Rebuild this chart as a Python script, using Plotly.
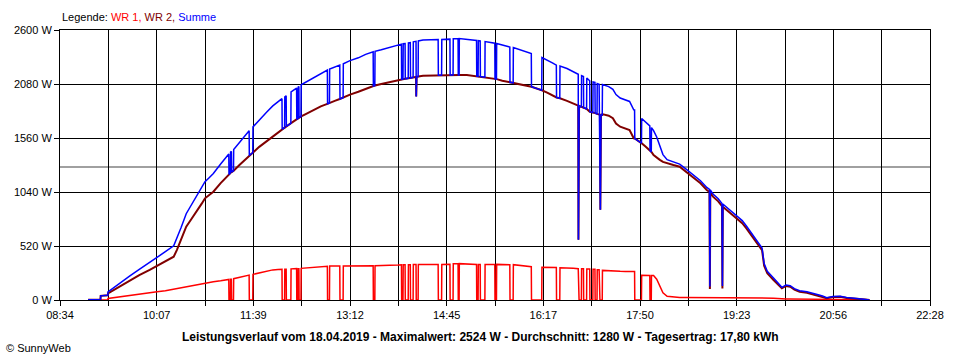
import plotly.graph_objects as go

# ---- data (time in minutes since midnight, watts) ----
t_min = [541, 552.8, 553, 559.8, 560, 570, 581, 590, 600, 607,
         615, 623, 626, 630, 635, 640, 645, 650, 653, 657,
         661, 668, 672, 675.8, 676, 677.3, 677.5, 678.3, 678.5, 680.3,
         680.5, 686, 691, 695.3, 695.5, 698.8, 699, 705, 712, 718,
         723, 726.8, 727, 729.3, 729.5, 730.8, 731, 735.3, 735.5, 740.8,
         741, 742.1, 742.3, 743, 743.2, 745, 745.2, 750, 757, 764,
         770.3, 770.5, 772.3, 772.5, 778, 782.2, 782.4, 785.4, 785.6, 792,
         800, 807, 814.2, 814.4, 815.8, 816, 822, 830, 838, 841.3,
         841.5, 842.8, 843, 844.8, 845, 847.8, 848, 849.8, 850, 852.5,
         852.7, 855.3, 855.5, 855.9, 857.3, 857.5, 862, 870, 876.5, 876.7,
         879.8, 880, 885, 887.8, 888, 890.8, 891, 895.6, 895.8, 896.6,
         896.8, 904, 910, 913.3, 913.5, 914.8, 915, 916.8, 917, 921.3,
         921.5, 927, 930.8, 931, 932.4, 932.6, 938, 945.2, 945.4, 948.4,
         948.6, 955, 960, 965.8, 966, 975.8, 976, 981, 986, 989.8,
         990, 993.1, 993.3, 1000, 1006, 1010.8, 1011, 1011.6, 1013.8, 1014,
         1015.8, 1016, 1018.8, 1019, 1021.8, 1022, 1024.8, 1025, 1026.8, 1027,
         1028.8, 1029, 1030.8, 1031, 1031.6, 1032, 1032.6, 1033.8, 1034, 1040,
         1044, 1047, 1051, 1056, 1060, 1064, 1064.8, 1065, 1071.4, 1071.6,
         1075, 1079.4, 1079.6, 1080.8, 1081, 1083, 1086, 1089, 1092, 1096,
         1102, 1108, 1113, 1118, 1123, 1128, 1134, 1136.6, 1137, 1137.4,
         1140, 1145, 1148.6, 1149, 1149.4, 1156, 1163, 1168, 1172, 1177,
         1182, 1187, 1189, 1192, 1198, 1202, 1206, 1210, 1214, 1218,
         1223, 1230, 1235, 1239, 1245, 1249, 1255, 1262, 1268, 1275,
         1280, 1286, 1290]

wr1 = [0, 0, 0, 0, 15, 30, 40, 55, 70, 80,
       90, 105, 110, 115, 125, 140, 150, 155, 160, 168,
       175, 185, 192, 198, 0, 0, 200, 200, 0, 0,
       205, 220, 232, 240, 0, 0, 247, 262, 278, 290,
       293, 295, 0, 0, 296, 296, 0, 0, 300, 302,
       0, 0, 302, 302, 0, 0, 305, 308, 315, 320,
       325, 0, 0, 327, 327, 327, 0, 0, 327, 327,
       327, 330, 330, 0, 0, 330, 330, 335, 338, 340,
       0, 0, 340, 340, 0, 0, 340, 340, 0, 0,
       343, 343, 0, 0, 0, 343, 343, 343, 343, 0,
       0, 343, 345, 345, 0, 0, 348, 348, 0, 0,
       350, 345, 343, 343, 0, 0, 343, 343, 0, 0,
       343, 343, 343, 0, 0, 343, 343, 340, 0, 0,
       340, 335, 330, 320, 0, 0, 315, 315, 313, 312,
       0, 0, 311, 311, 305, 302, 0, 0, 0, 300,
       300, 0, 0, 298, 298, 0, 0, 295, 295, 0,
       0, 292, 292, 0, 0, 0, 0, 0, 285, 280,
       278, 278, 276, 275, 275, 275, 275, 0, 0, 238,
       238, 236, 0, 0, 235, 235, 200, 130, 70, 35,
       28, 25, 25, 25, 25, 25, 25, 25, 25, 25,
       25, 25, 25, 25, 25, 25, 25, 25, 22, 20,
       20, 20, 20, 20, 18, 15, 10, 10, 10, 10,
       10, 10, 8, 8, 8, 6, 6, 5, 5, 5,
       3, 0, 0]

wr2 = [3, 5, 40, 45, 64, 125, 193, 240, 290, 327,
       375, 417, 481, 580, 706, 780, 850, 930, 979, 1010,
       1043, 1125, 1170, 1208, 1210, 1223, 1225, 1231, 1232, 1244,
       1245, 1300, 1350, 1390, 1392, 1418, 1420, 1475, 1530, 1579,
       1615, 1644, 1645, 1659, 1660, 1671, 1672, 1702, 1703, 1739,
       1740, 1747, 1748, 1754, 1755, 1767, 1768, 1792, 1830, 1865,
       1889, 1890, 1896, 1897, 1920, 1936, 1937, 1947, 1948, 1978,
       2005, 2035, 2060, 2061, 2064, 2065, 2080, 2100, 2119, 2124,
       2125, 2127, 2128, 2130, 2130, 2135, 2135, 2138, 2138, 2143,
       2143, 2148, 1960, 2149, 2152, 2152, 2160, 2163, 2165, 2165,
       2166, 2166, 2167, 2167, 2167, 2167, 2167, 2167, 2167, 2167,
       2167, 2167, 2160, 2156, 2156, 2154, 2154, 2152, 2152, 2146,
       2146, 2138, 2130, 2130, 2127, 2127, 2112, 2096, 2096, 2090,
       2090, 2075, 2065, 2054, 2054, 2020, 2020, 1997, 1970, 1950,
       1950, 1942, 1942, 1918, 1894, 1872, 580, 1870, 1860, 1860,
       1852, 1852, 1840, 1840, 1813, 1813, 1805, 1805, 1800, 1800,
       1792, 1792, 1785, 1785, 1784, 870, 1782, 1781, 1790, 1775,
       1750, 1700, 1669, 1650, 1637, 1557, 1556, 1555, 1510, 1510,
       1480, 1440, 1440, 1425, 1425, 1396, 1370, 1350, 1330, 1316,
       1300, 1284, 1245, 1204, 1165, 1124, 1059, 1040, 105, 1035,
       995, 950, 905, 110, 899, 840, 787, 740, 690, 620,
       546, 481, 330, 257, 193, 150, 112, 135, 128, 100,
       80, 70, 55, 48, 30, 16, 28, 32, 20, 16,
       10, 5, 0]

summe = [a + b for a, b in zip(wr1, wr2)]

x_start, x_end = 514, 1348          # 08:34 .. 22:28
x_labels = ["08:34", "10:07", "11:39", "13:12", "14:45", "16:17", "17:50", "19:23", "20:56", "22:28"]
y_ticks = [0, 520, 1040, 1560, 2080, 2600]
avg_w = 1280
title_text = ("Leistungsverlauf vom 18.04.2019 - Maximalwert: 2524 W - Durchschnitt: 1280 W - "
              "Tagesertrag: 17,80 kWh")

n_grid = 18
step = (x_end - x_start) / n_grid
x_tickvals = [x_start + i * step for i in range(n_grid + 1)]
x_ticktext = [x_labels[i // 2] if i % 2 == 0 else "" for i in range(n_grid + 1)]

FONT = "Liberation Sans, Arial, sans-serif"

fig = go.Figure()
fig.add_trace(go.Scatter(x=t_min, y=wr1, mode="lines", line=dict(color="#ff0000", width=1.5),
                         name="WR 1"))
fig.add_trace(go.Scatter(x=t_min, y=wr2, mode="lines", line=dict(color="#800000", width=2),
                         name="WR 2"))
fig.add_trace(go.Scatter(x=t_min, y=summe, mode="lines", line=dict(color="#0000ff", width=1.5),
                         name="Summe"))

fig.add_shape(type="line", xref="paper", x0=0, x1=1, yref="y", y0=avg_w, y1=avg_w,
              line=dict(color="#808080", width=1.5), layer="below")

fig.add_annotation(xref="paper", yref="paper", x=0, y=1.049, xanchor="left", yanchor="middle",
                   showarrow=False, font=dict(family=FONT, size=11, color="black"),
                   text=("Legende: <span style='color:#ff0000'>WR 1,</span> "
                         "<span style='color:#800000'>WR 2,</span> "
                         "<span style='color:#0000ff'>Summe</span>"))
fig.add_annotation(xref="paper", yref="paper", x=(480 - 60) / 870, y=(300 - 337) / 270,
                   xanchor="center", yanchor="middle", showarrow=False,
                   font=dict(family=FONT, size=12, color="black"), text="<b>" + title_text + "</b>")
fig.add_annotation(xref="paper", yref="paper", x=(4 - 60) / 870, y=(300 - 348) / 270,
                   xanchor="left", yanchor="middle", showarrow=False,
                   font=dict(family=FONT, size=11, color="black"), text="© SunnyWeb")

fig.update_layout(
    width=960, height=360,
    margin=dict(l=60, r=30, t=30, b=60),
    paper_bgcolor="white", plot_bgcolor="white",
    showlegend=False,
    hovermode=False,
    font=dict(family=FONT, size=11, color="black"),
    xaxis=dict(range=[x_start, x_end], tickvals=x_tickvals, ticktext=x_ticktext,
               showgrid=True, gridcolor="black", gridwidth=1, zeroline=False,
               showline=True, linecolor="black", linewidth=1, mirror=True,
               ticks="outside", ticklen=5, tickcolor="black", tickwidth=1),
    yaxis=dict(range=[0, 2600], tickvals=y_ticks, ticktext=[f"{v} W" for v in y_ticks],
               showgrid=True, gridcolor="black", gridwidth=1, zeroline=False,
               showline=True, linecolor="black", linewidth=1, mirror=True,
               ticks="outside", ticklen=5, tickcolor="black", tickwidth=1),
)

fig.write_html("out.html", config={"displayModeBar": False},
               post_script="document.body.style.margin='0';")
